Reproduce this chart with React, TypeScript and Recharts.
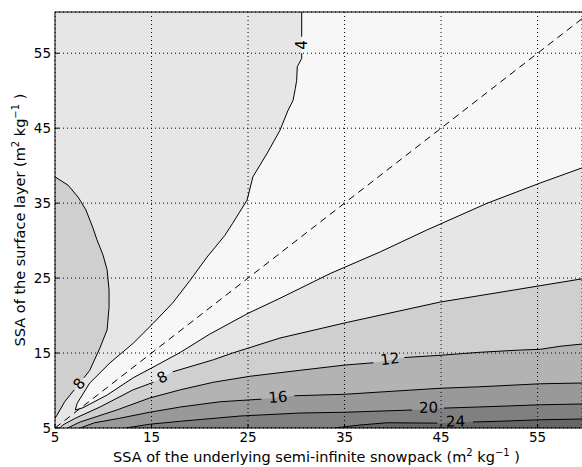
import { ComposedChart, Area, Line, Scatter, XAxis, YAxis, CartesianGrid } from "recharts";

type Pt = { x: number; y: number };

const X_MIN = 5;
const X_MAX = 59.6;
const Y_MIN = 5;
const Y_MAX = 60.5;
const xTicks = [5, 15, 25, 35, 45, 55];
const yTicks = [5, 15, 25, 35, 45, 55];

// fill of each band between contour levels
const fill0to4 = "#f7f7f7";
const fill4to8 = "#e6e6e6";
const fill8to12 = "#cfcfcf";
const fill12to16 = "#b3b3b3";
const fill16to20 = "#999999";
const fill20to24 = "#808080";
const fill24up = "#666666";

// contour traces (SSA underlying, SSA surface)
const contour4Upper: Pt[] = [
  { x: 30.56, y: 60.5 }, { x: 30.56, y: 57.2 }, { x: 30.56, y: 55.0 }, { x: 30.56, y: 54.3 },
  { x: 30.1, y: 53.2 }, { x: 30.04, y: 51.4 }, { x: 29.9, y: 50.3 }, { x: 29.66, y: 48.7 },
  { x: 29.15, y: 47.4 }, { x: 28.3, y: 44.7 }, { x: 27.0, y: 41.7 }, { x: 25.5, y: 38.5 },
  { x: 24.9, y: 35.4 }, { x: 23.4, y: 32.3 }, { x: 22.6, y: 30.7 }, { x: 20.75, y: 27.8 },
  { x: 19.0, y: 24.7 }, { x: 17.2, y: 21.7 }, { x: 15.2, y: 19.0 }, { x: 13.1, y: 16.3 },
  { x: 10.7, y: 13.7 }, { x: 8.6, y: 11.0 }, { x: 7.3, y: 8.3 }, { x: 7.1, y: 7.4 },
];
const contour4Lower: Pt[] = [
  { x: 7.1, y: 7.4 }, { x: 7.9, y: 7.7 }, { x: 10.4, y: 9.4 }, { x: 13.1, y: 11.7 },
  { x: 15.0, y: 13.0 }, { x: 18.0, y: 15.1 }, { x: 21.0, y: 17.5 }, { x: 25.0, y: 20.3 },
  { x: 28.3, y: 22.3 }, { x: 33.5, y: 25.6 }, { x: 38.7, y: 28.5 }, { x: 43.5, y: 31.4 },
  { x: 49.8, y: 35.0 }, { x: 55.3, y: 37.7 }, { x: 59.6, y: 39.7 },
];
const contour8Left: Pt[] = [
  { x: 5.0, y: 38.5 }, { x: 6.35, y: 37.4 }, { x: 7.4, y: 35.8 }, { x: 8.2, y: 34.1 },
  { x: 8.9, y: 31.8 }, { x: 9.35, y: 30.1 }, { x: 9.97, y: 28.1 }, { x: 10.4, y: 26.1 },
  { x: 10.6, y: 23.4 }, { x: 10.6, y: 21.1 }, { x: 10.4, y: 18.1 }, { x: 9.66, y: 15.7 },
  { x: 8.6, y: 12.7 }, { x: 8.0, y: 11.7 }, { x: 7.0, y: 10.1 }, { x: 6.0, y: 8.5 },
  { x: 5.2, y: 6.7 }, { x: 5.0, y: 6.3 },
];
const contour8Lower: Pt[] = [
  { x: 5.5, y: 5.0 }, { x: 5.8, y: 5.4 }, { x: 7.1, y: 6.3 }, { x: 9.66, y: 7.8 },
  { x: 13.1, y: 10.1 }, { x: 15.2, y: 11.1 }, { x: 17.2, y: 12.5 }, { x: 21.4, y: 14.1 },
  { x: 23.4, y: 15.0 }, { x: 28.3, y: 17.0 }, { x: 35.3, y: 19.1 }, { x: 44.9, y: 21.8 },
  { x: 52.5, y: 23.4 }, { x: 59.6, y: 24.9 },
];
const contour12: Pt[] = [
  { x: 6.3, y: 5.0 }, { x: 7.6, y: 5.8 }, { x: 11.4, y: 7.4 }, { x: 14.8, y: 9.0 },
  { x: 18.0, y: 10.1 }, { x: 21.4, y: 11.1 }, { x: 25.2, y: 11.9 }, { x: 30.4, y: 12.7 },
  { x: 35.05, y: 13.4 }, { x: 38.0, y: 13.7 }, { x: 41.2, y: 14.4 }, { x: 44.9, y: 14.7 },
  { x: 49.0, y: 15.1 }, { x: 53.2, y: 15.4 }, { x: 55.3, y: 15.5 }, { x: 57.3, y: 15.9 },
  { x: 59.6, y: 16.2 },
];
const contour16: Pt[] = [
  { x: 7.6, y: 5.0 }, { x: 9.1, y: 5.7 }, { x: 11.7, y: 6.3 }, { x: 14.8, y: 7.1 },
  { x: 18.0, y: 7.8 }, { x: 22.1, y: 8.5 }, { x: 26.4, y: 8.85 }, { x: 29.8, y: 9.3 },
  { x: 35.05, y: 9.5 }, { x: 38.7, y: 9.8 }, { x: 44.9, y: 10.3 }, { x: 49.0, y: 10.5 },
  { x: 55.3, y: 10.9 }, { x: 59.6, y: 11.0 },
];
const contour20: Pt[] = [
  { x: 12.3, y: 5.0 }, { x: 14.8, y: 5.5 }, { x: 18.0, y: 5.9 }, { x: 24.2, y: 6.6 },
  { x: 30.4, y: 7.0 }, { x: 35.05, y: 7.1 }, { x: 42.0, y: 7.4 }, { x: 45.3, y: 7.65 },
  { x: 51.1, y: 7.9 }, { x: 55.3, y: 8.1 }, { x: 59.6, y: 8.2 },
];
const contour24: Pt[] = [
  { x: 34.0, y: 5.0 }, { x: 36.6, y: 5.4 }, { x: 39.4, y: 5.7 }, { x: 44.6, y: 5.65 },
  { x: 48.3, y: 5.8 }, { x: 51.1, y: 5.9 }, { x: 55.3, y: 6.1 }, { x: 59.6, y: 6.2 },
];

// inline contour labels
const contourLabels = [
  { x: 30.56, y: 56.1, text: "4", angle: -90 },
  { x: 7.5, y: 10.9, text: "8", angle: -50 },
  { x: 16.1, y: 11.75, text: "8", angle: -27 },
  { x: 39.7, y: 14.2, text: "12", angle: -7 },
  { x: 28.1, y: 9.1, text: "16", angle: -4 },
  { x: 43.7, y: 7.7, text: "20", angle: -2 },
  { x: 46.5, y: 5.85, text: "24", angle: -1 },
];

const oneToOne: Pt[] = [{ x: X_MIN, y: Y_MIN }, { x: X_MAX, y: X_MAX }];

const withGap = (pts: Pt[], after: number) =>
  after < 0 ? pts : [...pts.slice(0, after + 1), { x: pts[after].x, y: null }, ...pts.slice(after + 1)];

const contourLines = [
  { key: "c4u", data: withGap(contour4Upper, 1) },
  { key: "c4l", data: contour4Lower },
  { key: "c8a", data: withGap(contour8Left, 13) },
  { key: "c8b", data: withGap(contour8Lower, 5) },
  { key: "c12", data: withGap(contour12, 9) },
  { key: "c16", data: withGap(contour16, 6) },
  { key: "c20", data: withGap(contour20, 6) },
  { key: "c24", data: withGap(contour24, 3) },
];

const plotBox: Pt[] = [{ x: X_MIN, y: Y_MAX }, { x: X_MAX, y: Y_MAX }];
const lowRegion: Pt[] = [...contour4Lower, { x: X_MAX, y: Y_MAX }, ...contour4Upper];

const fills = [
  { key: "bg", data: plotBox, fill: fill4to8 },
  { key: "left", data: contour8Left, fill: fill8to12 },
  { key: "b8", data: contour8Lower, fill: fill8to12 },
  { key: "b12", data: contour12, fill: fill12to16 },
  { key: "b16", data: contour16, fill: fill16to20 },
  { key: "b20", data: contour20, fill: fill20to24 },
  { key: "b24", data: contour24, fill: fill24up },
  { key: "low", data: lowRegion, fill: fill0to4 },
];

const LabelShape = (props: any) => {
  const { cx, cy, payload } = props;
  return (
    <text x={cx} y={cy} transform={`rotate(${payload.angle} ${cx} ${cy})`} textAnchor="middle"
      dominantBaseline="central" fontSize={15} fill="#000">
      {payload.text}
    </text>
  );
};

const units = (
  <>
    <tspan>(m</tspan>
    <tspan dy={-6} fontSize={10}>2</tspan>
    <tspan dy={6}> kg</tspan>
    <tspan dy={-6} fontSize={10}>−1</tspan>
    <tspan dy={6}> )</tspan>
  </>
);

const XTitle = (props: any) => {
  const vb = props.viewBox;
  return (
    <text x={vb.x + vb.width / 2 - 2} y={vb.y + vb.height - 5} textAnchor="middle" fontSize={14.5} fill="#000">
      <tspan>SSA of the underlying semi-infinite snowpack </tspan>
      {units}
    </text>
  );
};

const YTitle = (props: any) => {
  const vb = props.viewBox;
  const x = vb.x + 17;
  const y = vb.y + vb.height / 2;
  return (
    <text transform={`translate(${x},${y}) rotate(-90)`} textAnchor="middle" fontSize={14.5} fill="#000">
      <tspan>SSA of the surface layer </tspan>
      {units}
    </text>
  );
};

export default function App() {
  return (
    <div style={{ position: "absolute", left: 8, top: 8, width: 574, height: 459, fontFamily: '"DejaVu Sans", sans-serif' }}>
      <ComposedChart width={574} height={459} margin={{ top: 0, right: 0, bottom: 0, left: 0 }}>
        <XAxis xAxisId={0} type="number" dataKey="x" domain={[X_MIN, X_MAX]} allowDataOverflow ticks={xTicks}
          height={39} tickSize={-4} tickMargin={8} axisLine={{ stroke: "#000" }} tickLine={{ stroke: "#000" }}
          tick={{ fontSize: 13.5, fill: "#000" }} label={(p: any) => <XTitle {...p} />} />
        <XAxis xAxisId="top" orientation="top" type="number" dataKey="x" domain={[X_MIN, X_MAX]} allowDataOverflow
          ticks={xTicks} height={4} tickSize={-4} tick={false} axisLine={{ stroke: "#000" }} tickLine={{ stroke: "#000" }} />
        <YAxis type="number" dataKey="y" domain={[Y_MIN, Y_MAX]} allowDataOverflow ticks={yTicks} width={47}
          tickSize={-4} tickMargin={8} axisLine={{ stroke: "#000" }} tickLine={{ stroke: "#000" }}
          tick={{ fontSize: 13.5, fill: "#000" }} label={(p: any) => <YTitle {...p} />} />
        {fills.map((f) => (
          <Area key={f.key} data={f.data} dataKey="y" type="linear" fill={f.fill} fillOpacity={1} stroke="none"
            dot={false} activeDot={false} isAnimationActive={false} />
        ))}
        <CartesianGrid stroke="#000" strokeDasharray="1 3" {...({ zIndex: 450 } as any)} />
        {contourLines.map((c) => (
          <Line key={c.key} data={c.data} dataKey="y" type="linear" stroke="#000" strokeWidth={1}
            dot={false} activeDot={false} isAnimationActive={false} />
        ))}
        <Line data={oneToOne} dataKey="y" type="linear" stroke="#000" strokeWidth={1} strokeDasharray="7 5"
          dot={false} activeDot={false} isAnimationActive={false} />
        <Scatter data={contourLabels} dataKey="y" shape={LabelShape} isAnimationActive={false} />
      </ComposedChart>
    </div>
  );
}
